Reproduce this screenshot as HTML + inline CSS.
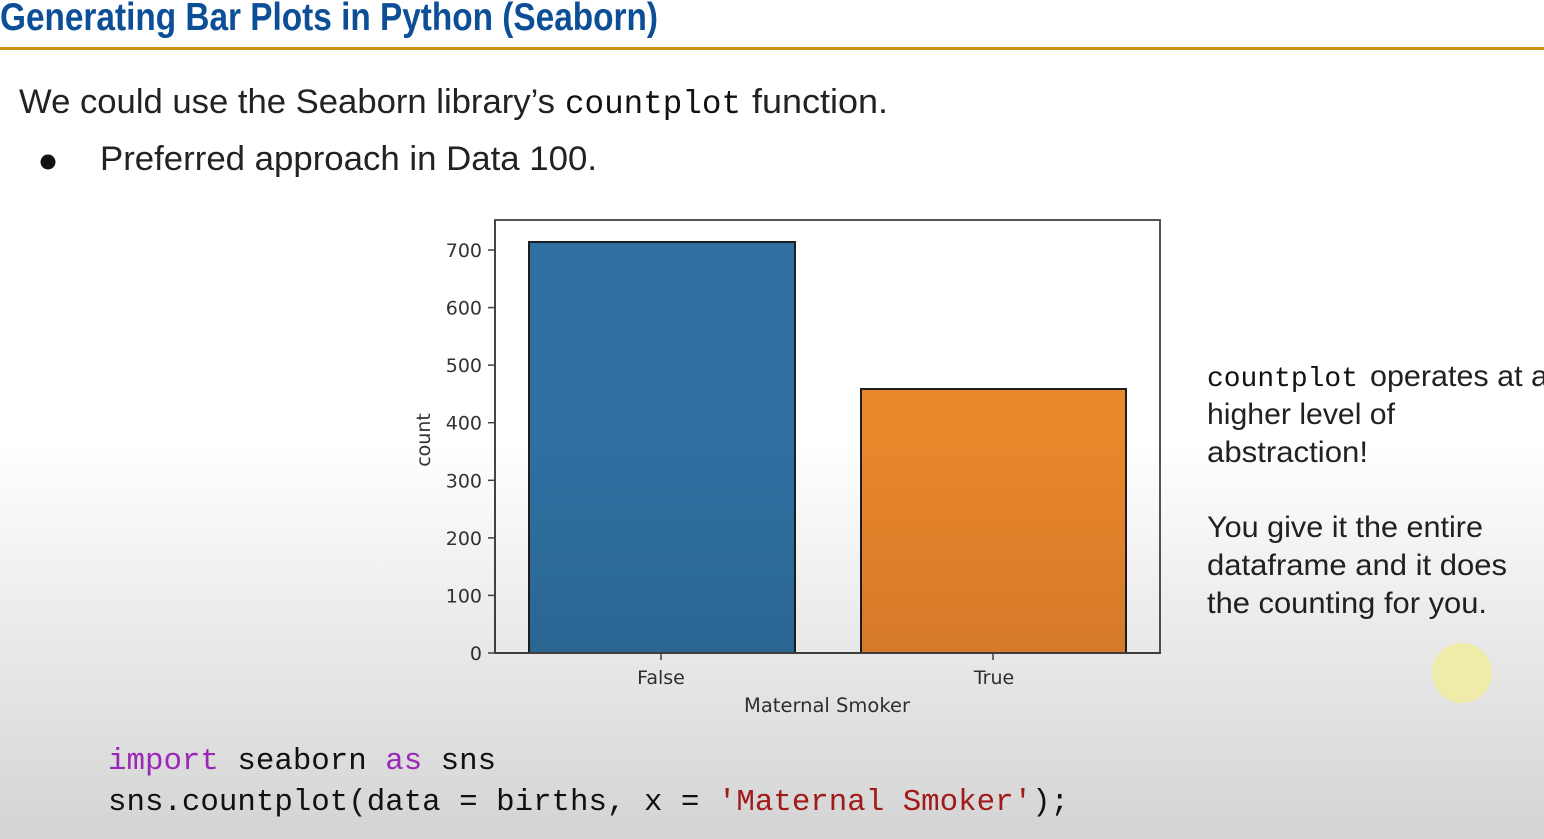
<!DOCTYPE html>
<html>
<head>
<meta charset="utf-8">
<style>
html,body{margin:0;padding:0;background:#fff;}
svg{display:block;}
</style>
</head>
<body>
<svg width="1544" height="839" viewBox="0 0 1544 839" xmlns="http://www.w3.org/2000/svg">
  <defs>
    <linearGradient id="shade" x1="0" y1="0" x2="0" y2="1" gradientUnits="objectBoundingBox">
      <stop offset="0" stop-color="#000" stop-opacity="0"/>
      <stop offset="1" stop-color="#000" stop-opacity="0.17"/>
    </linearGradient>
  </defs>
  <rect x="0" y="0" width="1544" height="839" fill="#ffffff"/>

  <!-- Title -->
  <text x="0" y="30" font-family="Liberation Sans, Arial, sans-serif" font-weight="bold" font-size="39" fill="#0d4f97" textLength="658" lengthAdjust="spacingAndGlyphs">Generating Bar Plots in Python (Seaborn)</text>
  <rect x="0" y="47" width="1544" height="3" fill="#c8930f"/>

  <!-- Body text -->
  <text x="19" y="113" font-family="Liberation Sans, Arial, sans-serif" font-size="34" fill="#222" textLength="536" lengthAdjust="spacingAndGlyphs">We could use the Seaborn library’s</text>
  <text x="565" y="113" font-family="Liberation Mono, monospace" font-size="33" fill="#111" textLength="176" lengthAdjust="spacingAndGlyphs">countplot</text>
  <text x="752" y="113" font-family="Liberation Sans, Arial, sans-serif" font-size="34" fill="#222" textLength="136" lengthAdjust="spacingAndGlyphs">function.</text>

  <circle cx="48" cy="162" r="7.5" fill="#111"/>
  <text x="100" y="170" font-family="Liberation Sans, Arial, sans-serif" font-size="34" fill="#222" textLength="497" lengthAdjust="spacingAndGlyphs">Preferred approach in Data 100.</text>

  <!-- Chart -->
  <g>
    <rect x="495" y="220" width="665" height="433" fill="#ffffff" stroke="#555" stroke-width="2"/>
    <rect x="529" y="242" width="266" height="411" fill="#2f70a1" stroke="#1e1e1e" stroke-width="2"/>
    <rect x="861" y="389" width="265" height="264" fill="#ea862c" stroke="#1e1e1e" stroke-width="2"/>
    <line x1="495" y1="220" x2="495" y2="654" stroke="#444" stroke-width="2"/>
    <line x1="494" y1="653" x2="1161" y2="653" stroke="#444" stroke-width="2"/>

    <!-- y ticks -->
    <g stroke="#444" stroke-width="1.5">
      <line x1="488" y1="653" x2="495" y2="653"/>
      <line x1="488" y1="595.4" x2="495" y2="595.4"/>
      <line x1="488" y1="537.9" x2="495" y2="537.9"/>
      <line x1="488" y1="480.3" x2="495" y2="480.3"/>
      <line x1="488" y1="422.7" x2="495" y2="422.7"/>
      <line x1="488" y1="365.1" x2="495" y2="365.1"/>
      <line x1="488" y1="307.6" x2="495" y2="307.6"/>
      <line x1="488" y1="250" x2="495" y2="250"/>
      <line x1="661" y1="653" x2="661" y2="660"/>
      <line x1="993" y1="653" x2="993" y2="660"/>
    </g>
    <g font-family="DejaVu Sans, sans-serif" font-size="19" fill="#333" text-anchor="end">
      <text x="482" y="660">0</text>
      <text x="482" y="602.4">100</text>
      <text x="482" y="544.9">200</text>
      <text x="482" y="487.3">300</text>
      <text x="482" y="429.7">400</text>
      <text x="482" y="372.1">500</text>
      <text x="482" y="314.6">600</text>
      <text x="482" y="257">700</text>
    </g>
    <g font-family="DejaVu Sans, sans-serif" font-size="19" fill="#333" text-anchor="middle">
      <text x="661" y="684">False</text>
      <text x="994" y="684">True</text>
      <text x="827" y="712" font-size="19.5">Maternal Smoker</text>
      <text transform="translate(430,440) rotate(-90)" x="0" y="0">count</text>
    </g>
  </g>

  <!-- Right text -->
  <text x="1207" y="386" font-family="Liberation Mono, monospace" font-size="28" fill="#111" textLength="151" lengthAdjust="spacingAndGlyphs">countplot</text>
  <g font-family="Liberation Sans, Arial, sans-serif" font-size="30" fill="#222">
    <text x="1370" y="386" textLength="178" lengthAdjust="spacingAndGlyphs">operates at a</text>
    <text x="1207" y="424" textLength="188" lengthAdjust="spacingAndGlyphs">higher level of</text>
    <text x="1207" y="462" textLength="161" lengthAdjust="spacingAndGlyphs">abstraction!</text>
    <text x="1207" y="537" textLength="276" lengthAdjust="spacingAndGlyphs">You give it the entire</text>
    <text x="1207" y="575" textLength="300" lengthAdjust="spacingAndGlyphs">dataframe and it does</text>
    <text x="1207" y="613" textLength="280" lengthAdjust="spacingAndGlyphs">the counting for you.</text>
  </g>

  <!-- video shading overlay -->
  <rect x="0" y="440" width="1544" height="399" fill="url(#shade)"/>

  <!-- cursor highlight -->
  <circle cx="1462" cy="673" r="30" fill="#efeca9"/>

  <!-- Code -->
  <g font-family="Liberation Mono, monospace" font-size="30.8" fill="#111">
    <text x="108" y="769"><tspan fill="#9a27b8">import</tspan> seaborn <tspan fill="#9a27b8">as</tspan> sns</text>
    <text x="108" y="810">sns.countplot(data = births, x = <tspan fill="#a11a1a">'Maternal Smoker'</tspan>);</text>
  </g>
</svg>
</body>
</html>
